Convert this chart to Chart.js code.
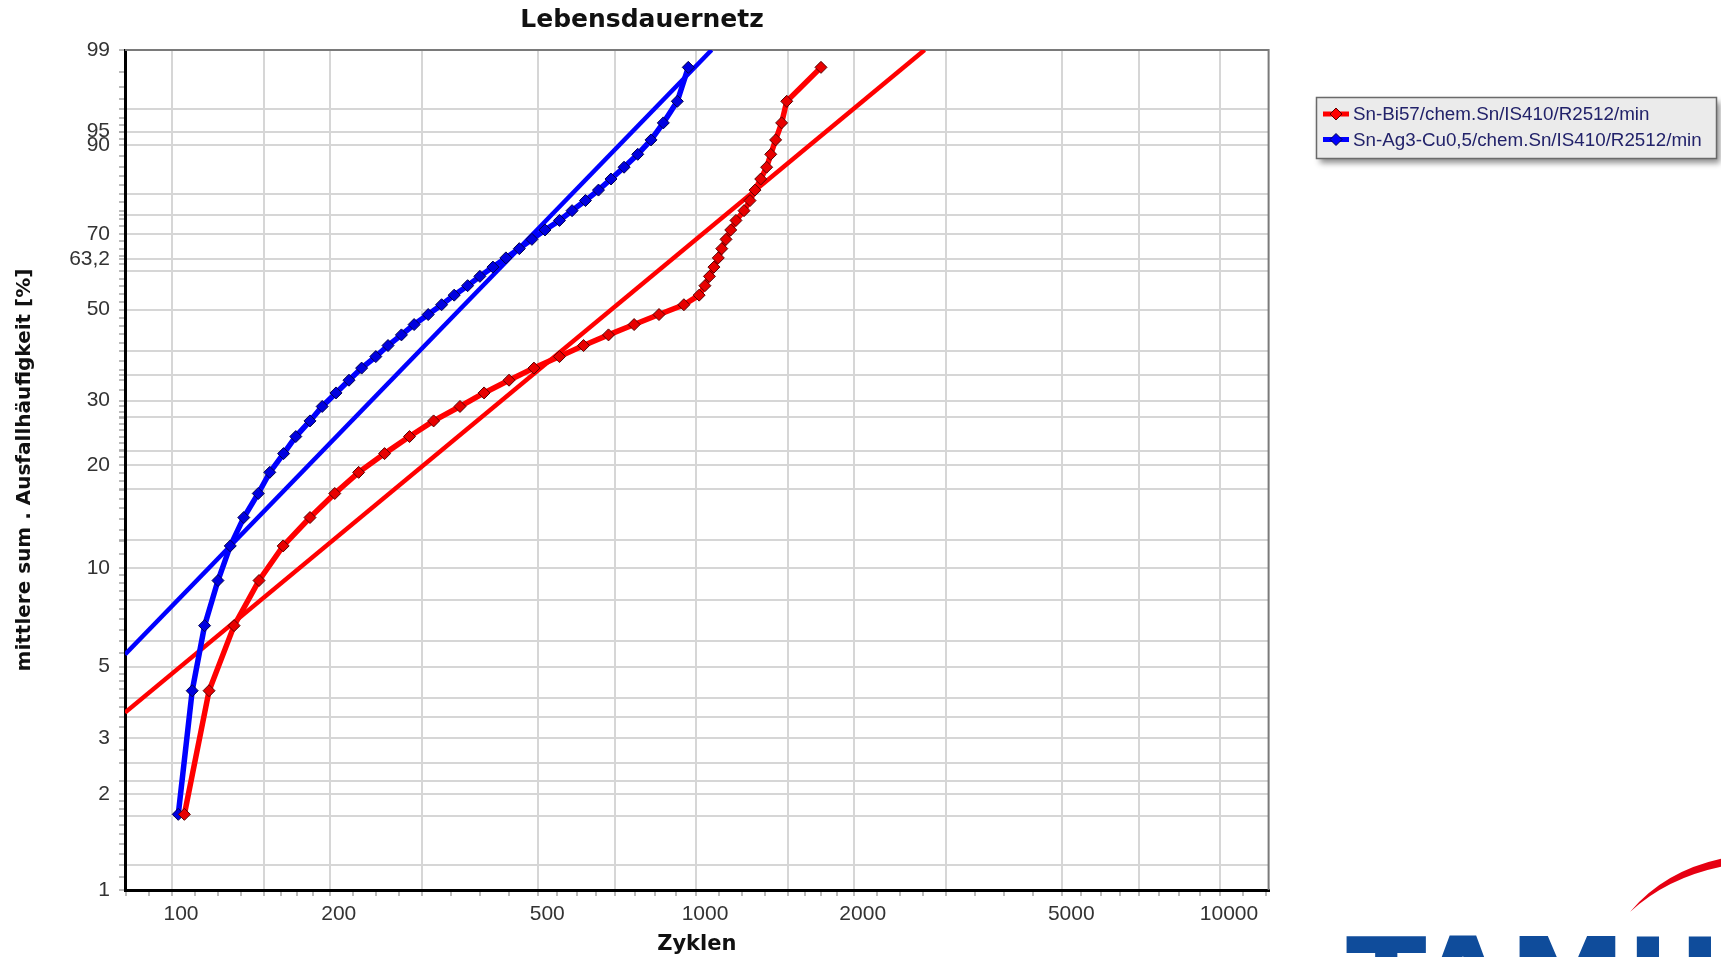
<!DOCTYPE html>
<html>
<head>
<meta charset="utf-8">
<title>Lebensdauernetz</title>
<script src="https://cdn.jsdelivr.net/npm/chart.js@4.4.1/dist/chart.umd.min.js"></script>
<style>
  html, body { margin: 0; padding: 0; background: #ffffff; }
  #wrap { width: 1721px; height: 957px; position: relative; }
</style>
</head>
<body>
<div id="wrap"><canvas id="chart" width="1721" height="957"></canvas></div>
<script>
// Median-rank failure percentages (shared by both test series, n = 40)
const failurePct = [1.73, 4.21, 6.68, 9.16, 11.63, 14.11, 16.58, 19.06, 21.53, 24.01,
  26.49, 28.96, 31.44, 33.91, 36.39, 38.86, 41.34, 43.81, 46.29, 48.76,
  51.24, 53.71, 56.19, 58.66, 61.14, 63.61, 66.09, 68.56, 71.04, 73.51,
  75.99, 78.47, 80.94, 83.42, 85.89, 88.37, 90.84, 93.32, 95.79, 98.27];

// Cycles to failure, Sn-Bi57
const cyclesSnBi57 = [105.6, 117.7, 131.4, 146.6, 163.0, 183.4, 204.5, 227.1, 254.5, 284.0,
  315.7, 354.5, 394.1, 439.8, 490.6, 548.9, 610.2, 680.8, 762.0, 850.0,
  948.3, 1014, 1040, 1061, 1082, 1103, 1120, 1141, 1165, 1192,
  1235, 1268, 1296, 1329, 1364, 1389, 1419, 1457, 1490, 1732];

// Cycles to failure, Sn-Ag3-Cu0,5
const cyclesSnAg3Cu05 = [102.8, 109.3, 115.4, 122.4, 129.2, 137.1, 146.1, 153.7, 163.3, 172.3,
  183.4, 193.5, 205.6, 217.7, 230.1, 244.9, 258.4, 274.1, 289.8, 308.3,
  327.0, 345.6, 366.6, 386.9, 409.7, 433.8, 460.1, 486.3, 515.1, 548.9,
  580.1, 615.3, 651.5, 688.3, 729.0, 774.2, 820.7, 866.3, 921.2, 966.7];

// Weibull regression lines (end points: cycles / percent)
const fitSnBi57Cycles = [81.35, 2730];
const fitSnBi57Pct = [3.60, 99];
const fitSnAg3Cu05Cycles = [81.35, 1071];
const fitSnAg3Cu05Pct = [5.45, 99];

const seriesNames = ['Sn-Bi57/chem.Sn/IS410/R2512/min', 'Sn-Ag3-Cu0,5/chem.Sn/IS410/R2512/min'];

// Axis grid / tick definitions
const xGridCycles = [100, 150, 200, 300, 500, 700, 1000, 1500, 2000, 3000, 5000, 7000, 10000];
const xTickLabels = [100, 200, 500, 1000, 2000, 5000, 10000];
const yGridPct = [1, 1.2, 1.71, 2, 2.2, 2.5, 3, 3.5, 4, 5, 6, 8, 10, 12.1, 17.1, 20, 21.9, 27.2,
  30, 35, 40, 50, 60, 63.2, 70, 75, 80, 90, 92.1, 95, 99];
const yTickPct = [1, 2, 3, 5, 10, 20, 30, 50, 63.2, 70, 90, 92.1, 99];
const yTickText = ['1', '2', '3', '5', '10', '20', '30', '50', '63,2', '70', '90', '95', '99'];

const X_MIN = 81.35, X_MAX = 12381;

// Weibull probability transform
const W = p => Math.log(-Math.log(1 - p / 100));

function steps(a, b, s) {
  const r = [];
  for (let v = a; v <= b + 1e-9; v += s) r.push(+v.toFixed(3));
  return r;
}

// small tick marks between grid lines
const yMinorPct = [...steps(1.1, 1.9, 0.1), ...steps(2.25, 4.75, 0.25), ...steps(5.5, 9.5, 0.5),
  ...steps(11, 29, 1), ...steps(32, 88, 2), ...steps(91, 98, 1)]
  .filter(v => !yGridPct.some(g => Math.abs(g - v) < 0.06));

const xEdges = [66.67, ...xGridCycles, 15000];
const xMinor = [];
for (let i = 0; i < xEdges.length - 1; i++) {
  const a = xEdges[i], b = xEdges[i + 1];
  for (let k = 1; k < 4; k++) {
    const v = a * Math.pow(b / a, k / 4);
    if (v > X_MIN && v < X_MAX) xMinor.push(v);
  }
}

const xTickObjs = [
  ...xGridCycles.map(v => ({ value: v, grid: true, txt: xTickLabels.includes(v) ? String(v) : '' })),
  ...xMinor.map(v => ({ value: v, grid: false, txt: '' }))
].sort((a, b) => a.value - b.value);

const yTickObjs = [
  ...yGridPct.map(p => {
    const k = yTickPct.indexOf(p);
    return { value: W(p), grid: true, txt: k >= 0 ? yTickText[k] : '' };
  }),
  ...yMinorPct.map(p => ({ value: W(p), grid: false, txt: '' }))
].sort((a, b) => a.value - b.value);

const toPoints = (xs, ps) => xs.map((x, i) => ({ x: x, y: W(ps[i]) }));

const RED = '#ff0000', BLUE = '#0000ff';

const chartFrame = {
  id: 'chartFrame',
  beforeDatasetsDraw(chart) {
    const { ctx, chartArea: a } = chart;
    ctx.save();
    ctx.strokeStyle = '#7a7a7a';
    ctx.lineWidth = 2;
    ctx.beginPath();
    ctx.moveTo(a.left, a.top);
    ctx.lineTo(a.right, a.top);
    ctx.lineTo(a.right, a.bottom);
    ctx.stroke();
    ctx.restore();
  },
  afterDraw(chart) {
    const { ctx } = chart;
    ctx.save();
    // heading
    ctx.fillStyle = '#111111';
    ctx.font = 'bold 25px "DejaVu Sans", Verdana, sans-serif';
    ctx.textAlign = 'center';
    ctx.textBaseline = 'middle';
    ctx.fillText('Lebensdauernetz', 642, 20);

    // legend box
    const lx = 1316.5, ly = 97.5, lw = 400, lh = 61;
    ctx.save();
    ctx.shadowColor = 'rgba(0,0,0,0.45)';
    ctx.shadowBlur = 6;
    ctx.shadowOffsetX = 3;
    ctx.shadowOffsetY = 4;
    ctx.fillStyle = '#ebebeb';
    ctx.fillRect(lx, ly, lw, lh);
    ctx.restore();
    ctx.strokeStyle = '#6a6a6a';
    ctx.lineWidth = 1.5;
    ctx.strokeRect(lx, ly, lw, lh);

    const rows = [
      { name: seriesNames[0], color: RED, edge: '#5a0000', y: 114 },
      { name: seriesNames[1], color: BLUE, edge: '#00004a', y: 139.5 }
    ];
    rows.forEach(r => {
      ctx.strokeStyle = r.color;
      ctx.lineWidth = 5;
      ctx.beginPath();
      ctx.moveTo(1323, r.y);
      ctx.lineTo(1349, r.y);
      ctx.stroke();
      ctx.beginPath();
      ctx.moveTo(1336, r.y - 6);
      ctx.lineTo(1342, r.y);
      ctx.lineTo(1336, r.y + 6);
      ctx.lineTo(1330, r.y);
      ctx.closePath();
      ctx.fillStyle = r.color;
      ctx.fill();
      ctx.lineWidth = 1;
      ctx.strokeStyle = r.edge;
      ctx.stroke();
      ctx.fillStyle = '#22226a';
      ctx.font = '18.8px "Liberation Sans", Arial, sans-serif';
      ctx.textAlign = 'left';
      ctx.textBaseline = 'middle';
      ctx.fillText(r.name, 1353, r.y + 1);
    });

    // company mark, bottom right (cut by the page edge)
    ctx.save();
    ctx.beginPath();
    ctx.rect(1300, 840, 421, 117);
    ctx.clip();
    ctx.fillStyle = '#0f4c9b';
    ctx.font = 'bold 118px "DejaVu Sans", Verdana, sans-serif';
    ctx.textAlign = 'left';
    ctx.textBaseline = 'alphabetic';
    ctx.fillText('TAMURA', 1346, 1022);
    ctx.fillStyle = '#e60012';
    ctx.beginPath();
    ctx.moveTo(1630, 912);
    ctx.quadraticCurveTo(1665, 870, 1725, 858);
    ctx.lineTo(1725, 866);
    ctx.quadraticCurveTo(1668, 877, 1630, 912);
    ctx.closePath();
    ctx.fill();
    ctx.restore();

    ctx.restore();
  }
};

const gridColor = ctx => (ctx.tick && ctx.tick.grid) ? '#d6d6d6' : 'rgba(0,0,0,0)';

new Chart(document.getElementById('chart'), {
  type: 'scatter',
  data: {
    datasets: [
      {
        label: seriesNames[0],
        data: toPoints(cyclesSnBi57, failurePct),
        showLine: true,
        borderColor: RED,
        borderWidth: 5.5,
        pointStyle: 'rectRot',
        pointRadius: 6,
        pointBackgroundColor: '#e80000',
        pointBorderColor: '#5a0000',
        pointBorderWidth: 1,
        tension: 0,
        order: 0
      },
      {
        label: seriesNames[1],
        data: toPoints(cyclesSnAg3Cu05, failurePct),
        showLine: true,
        borderColor: BLUE,
        borderWidth: 5.5,
        pointStyle: 'rectRot',
        pointRadius: 6,
        pointBackgroundColor: '#0000e0',
        pointBorderColor: '#00004a',
        pointBorderWidth: 1,
        tension: 0,
        order: 0
      },
      {
        label: 'Regression ' + seriesNames[0],
        data: toPoints(fitSnBi57Cycles, fitSnBi57Pct),
        showLine: true,
        borderColor: RED,
        borderWidth: 4.5,
        pointRadius: 0,
        order: 1
      },
      {
        label: 'Regression ' + seriesNames[1],
        data: toPoints(fitSnAg3Cu05Cycles, fitSnAg3Cu05Pct),
        showLine: true,
        borderColor: BLUE,
        borderWidth: 4.5,
        pointRadius: 0,
        order: 1
      }
    ]
  },
  options: {
    responsive: false,
    animation: false,
    devicePixelRatio: 1,
    layout: { padding: { top: 50, right: 452.4, bottom: 0, left: 0 } },
    plugins: {
      legend: { display: false },
      title: { display: false },
      tooltip: { enabled: false }
    },
    scales: {
      x: {
        type: 'logarithmic',
        min: X_MIN,
        max: X_MAX,
        afterBuildTicks: s => { s.ticks = xTickObjs.map(t => ({ ...t })); },
        afterFit: s => { s.height = 67; },
        ticks: {
          autoSkip: false,
          maxRotation: 0,
          minRotation: 0,
          labelOffset: 9,
          padding: 6,
          color: '#333333',
          font: { family: '"Liberation Sans", Arial, sans-serif', size: 21 },
          callback: (v, i, ticks) => ticks[i].txt || ''
        },
        grid: {
          color: gridColor,
          lineWidth: 2,
          tickColor: '#a5a5a5',
          tickLength: 6,
          tickWidth: 1.5
        },
        border: { color: '#000000', width: 3 },
        title: {
          display: true,
          text: 'Zyklen',
          color: '#111111',
          font: { family: '"DejaVu Sans", Verdana, sans-serif', weight: 'bold', size: 21 },
          padding: { top: 0, bottom: 0 }
        }
      },
      y: {
        type: 'linear',
        min: W(1),
        max: W(99),
        afterBuildTicks: s => { s.ticks = yTickObjs.map(t => ({ ...t })); },
        afterFit: s => { s.width = 125; },
        ticks: {
          autoSkip: false,
          padding: 9,
          color: '#333333',
          font: { family: '"Liberation Sans", Arial, sans-serif', size: 21 },
          callback: (v, i, ticks) => ticks[i].txt || ''
        },
        grid: {
          color: gridColor,
          lineWidth: 2,
          tickColor: '#a5a5a5',
          tickLength: 6,
          tickWidth: 1.5
        },
        border: { color: '#000000', width: 3 },
        title: {
          display: true,
          text: 'mittlere sum . Ausfallhäufigkeit [%]',
          color: '#111111',
          font: { family: '"DejaVu Sans", Verdana, sans-serif', weight: 'bold', size: 20 },
          padding: { top: 13, bottom: 0 }
        }
      }
    }
  },
  plugins: [chartFrame]
});
</script>
</body>
</html>
